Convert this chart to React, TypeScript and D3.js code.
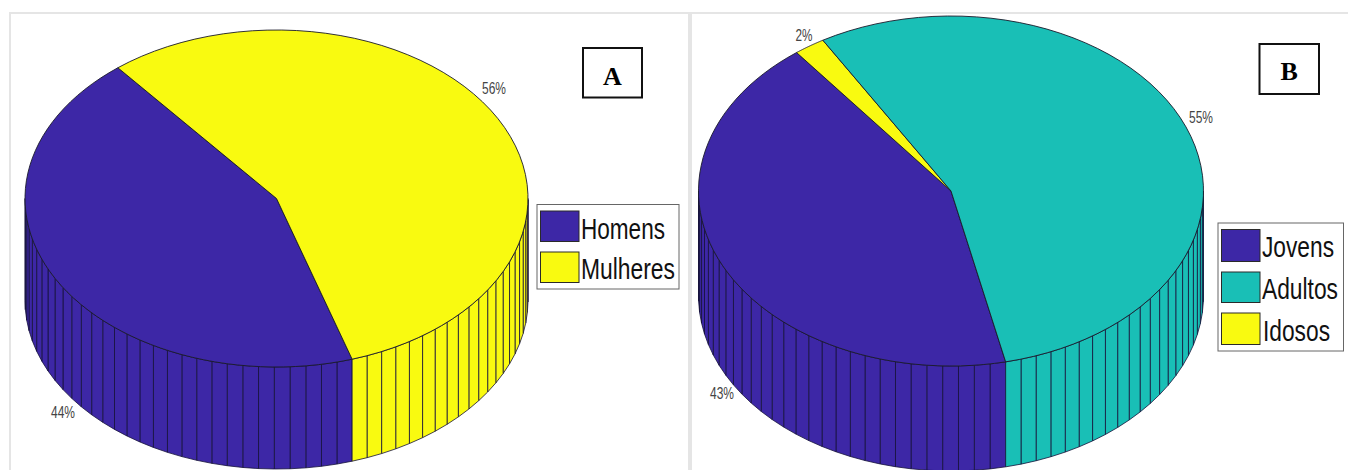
import React from "react";
import * as d3 from "d3";

// Panel A: sex distribution
const categoriesA = ["Homens", "Mulheres"];
const valuesA = [44, 56];
const coloursA = ["#3d27a6", "#f9fa10"];

// Panel B: age group distribution
const categoriesB = ["Jovens", "Adultos", "Idosos"];
const valuesB = [43, 55, 2];
const seriesOrderB = [0, 2, 1]; // wedge order around the disc
const coloursB = ["#3d27a6", "#19bfb6", "#f9fa10"];

const WIDTH = 1348;
const HEIGHT = 470;
const DEG = Math.PI / 180;
const FACET_STEP = 3.6 * DEG; // one side facet per percentage point
const LABEL_FILL = "#444444";

type Wedge = { value: number; colour: string };
type Disc = { cx: number; cy: number; rx: number; ry: number; depth: number; startDeg: number };
type PctLabel = { x: number; y: number; w: number };
type LegendRow = { top: number; bottom: number; baseline: number; textX: number; textW: number };

function Pie3D({ wedges, disc, labels }: { wedges: Wedge[]; disc: Disc; labels: PctLabel[] }) {
  const sx = d3.scaleLinear().domain([-1, 1]).range([disc.cx - disc.rx, disc.cx + disc.rx]);
  const sy = d3.scaleLinear().domain([-1, 1]).range([disc.cy - disc.ry, disc.cy + disc.ry]);
  const start = disc.startDeg * DEG;
  const arcs = d3
    .pie<Wedge>()
    .value((d) => d.value)
    .sort(null)
    .startAngle(start)
    .endAngle(start + 2 * Math.PI)(wedges);

  const rimPoint = (t: number): [number, number] => [sx(Math.sin(t)), sy(-Math.cos(t))];
  const outline = d3.line();

  // Visible wall facets: only the half of the rim that faces the viewer
  const frontFrom = 90 * DEG;
  const frontTo = 270 * DEG;
  const facets: { key: string; d: string; colour: string }[] = [];
  arcs.forEach((a, ai) => {
    const count = Math.round((a.endAngle - a.startAngle) / FACET_STEP);
    d3.range(count).forEach((k) => {
      const t0 = a.startAngle + k * FACET_STEP;
      const t1 = k === count - 1 ? a.endAngle : t0 + FACET_STEP;
      for (const turn of [0, 2 * Math.PI]) {
        const lo = Math.max(t0 - turn, frontFrom);
        const hi = Math.min(t1 - turn, frontTo);
        if (hi > lo) {
          const [x0, y0] = rimPoint(lo);
          const [x1, y1] = rimPoint(hi);
          const d = outline([
            [x0, y0],
            [x1, y1],
            [x1, y1 + disc.depth],
            [x0, y0 + disc.depth],
          ]);
          facets.push({ key: `${ai}-${k}-${turn}`, d: d + "Z", colour: a.data.colour });
        }
      }
    });
  });

  // Flat top of the disc
  const tops = arcs.map((a, i) => {
    const steps = d3.range(0, 61).map((j) => a.startAngle + ((a.endAngle - a.startAngle) * j) / 60);
    const pts: [number, number][] = [[disc.cx, disc.cy], ...steps.map(rimPoint)];
    return { key: i, d: outline(pts) + "Z", colour: a.data.colour };
  });

  return (
    <g>
      {facets.map((f) => (
        <path key={f.key} d={f.d} fill={f.colour} stroke="#15123a" strokeWidth={0.8} strokeLinejoin="round" />
      ))}
      {tops.map((t) => (
        <path key={t.key} d={t.d} fill={t.colour} stroke="#1a1a2a" strokeWidth={0.9} strokeLinejoin="round" />
      ))}
      {arcs.map((a, i) => (
        <text
          key={i}
          x={labels[i].x}
          y={labels[i].y}
          fontFamily="'Liberation Sans', sans-serif"
          fontSize={17}
          fill={LABEL_FILL}
          textLength={labels[i].w}
          lengthAdjust="spacingAndGlyphs"
        >
          {a.data.value}%
        </text>
      ))}
    </g>
  );
}

function Legend({
  box,
  swatch,
  names,
  colours,
  rows,
}: {
  box: { x0: number; x1: number; y0: number; y1: number };
  swatch: { x0: number; x1: number };
  names: string[];
  colours: string[];
  rows: LegendRow[];
}) {
  return (
    <g>
      <rect x={box.x0} y={box.y0} width={box.x1 - box.x0} height={box.y1 - box.y0} fill="#fff" stroke="#666" strokeWidth={1} />
      {names.map((name, i) => (
        <g key={name}>
          <rect
            x={swatch.x0}
            y={rows[i].top}
            width={swatch.x1 - swatch.x0}
            height={rows[i].bottom - rows[i].top}
            fill={colours[i]}
            stroke="#2a2a2a"
            strokeWidth={1}
          />
          <text
            x={rows[i].textX}
            y={rows[i].baseline}
            fontFamily="'Liberation Sans', sans-serif"
            fontSize={30}
            fill="#111"
            textLength={rows[i].textW}
            lengthAdjust="spacingAndGlyphs"
          >
            {name}
          </text>
        </g>
      ))}
    </g>
  );
}

function PanelTag({
  x0,
  x1,
  y0,
  y1,
  baseline,
  text,
}: {
  x0: number;
  x1: number;
  y0: number;
  y1: number;
  baseline: number;
  text: string;
}) {
  return (
    <g>
      <rect x={x0} y={y0} width={x1 - x0} height={y1 - y0} fill="#fff" stroke="#111" strokeWidth={2} />
      <text
        x={(x0 + x1) / 2}
        y={baseline}
        textAnchor="middle"
        fontFamily="'Liberation Serif', serif"
        fontWeight="bold"
        fontSize={26}
        fill="#000"
      >
        {text}
      </text>
    </g>
  );
}

export default function App() {
  const wedgesA: Wedge[] = valuesA.map((value, i) => ({ value, colour: coloursA[i] }));
  const wedgesB: Wedge[] = seriesOrderB.map((i) => ({ value: valuesB[i], colour: coloursB[i] }));

  return (
    <svg
      width={WIDTH}
      height={HEIGHT}
      viewBox={`0 0 ${WIDTH} ${HEIGHT}`}
      style={{ position: "absolute", left: 0, top: 0, display: "block", background: "#fff" }}
    >
      {/* Panel frame */}
      <rect x={9} y={12} width={WIDTH - 9} height={2} fill="#e5e5e5" />
      <rect x={9} y={12} width={2} height={HEIGHT - 12} fill="#e5e5e5" />
      <rect x={688} y={12} width={4} height={HEIGHT - 12} fill="#e5e5e5" />

      <Pie3D
        wedges={wedgesA}
        disc={{ cx: 276.5, cy: 198.5, rx: 251.5, ry: 168.5, depth: 102, startDeg: 162.5 }}
        labels={[
          { x: 51, y: 418, w: 24 },
          { x: 482, y: 94, w: 24 },
        ]}
      />
      <Pie3D
        wedges={wedgesB}
        disc={{ cx: 951, cy: 191, rx: 252.5, ry: 175, depth: 105, startDeg: 167.5 }}
        labels={[
          { x: 710, y: 398.5, w: 24 },
          { x: 795.5, y: 41, w: 17 },
          { x: 1189, y: 123, w: 24 },
        ]}
      />

      <PanelTag x0={583} x1={642} y0={48} y1={97.5} baseline={85} text="A" />
      <PanelTag x0={1259.5} x1={1319} y0={44} y1={94} baseline={80} text="B" />

      <Legend
        box={{ x0: 537, x1: 679, y0: 204.5, y1: 289 }}
        swatch={{ x0: 540.5, x1: 579 }}
        names={categoriesA}
        colours={coloursA}
        rows={[
          { top: 211, bottom: 241.5, baseline: 239, textX: 581, textW: 84 },
          { top: 252, bottom: 282.5, baseline: 279, textX: 581, textW: 94 },
        ]}
      />
      <Legend
        box={{ x0: 1218, x1: 1343.5, y0: 223, y1: 351 }}
        swatch={{ x0: 1221.5, x1: 1260 }}
        names={categoriesB}
        colours={coloursB}
        rows={[
          { top: 229.5, bottom: 261.5, baseline: 257, textX: 1262, textW: 72 },
          { top: 272, bottom: 302.5, baseline: 299, textX: 1262, textW: 76 },
          { top: 313, bottom: 344.5, baseline: 340.5, textX: 1263, textW: 67 },
        ]}
      />
    </svg>
  );
}
